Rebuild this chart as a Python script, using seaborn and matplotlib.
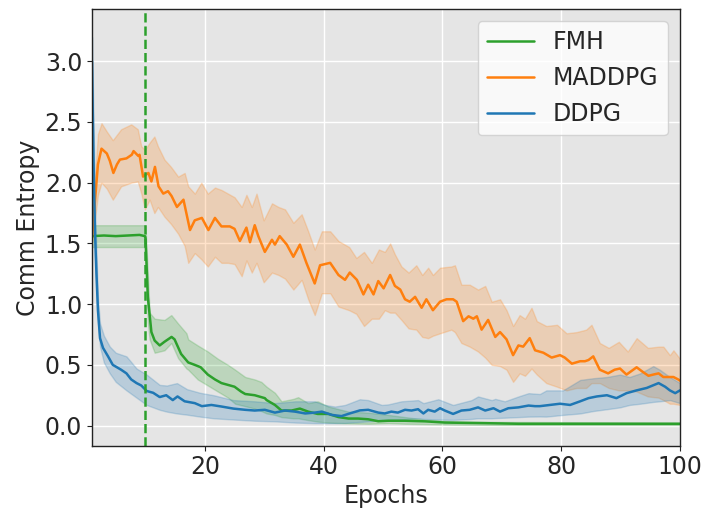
import numpy as np
import pandas as pd
import matplotlib
matplotlib.use("Agg")
import matplotlib.pyplot as plt
import seaborn as sns

# ---------------- data ----------------
fmh_x = [1, 3, 5, 7, 9, 9.9, 10.0, 10.4, 11.0, 11.55, 12.4, 13.2, 14.4, 14.9, 16.0, 17.2, 18.3,
         19.3, 20.5, 21.7, 22.8, 23.9, 25.0, 26.1, 26.8, 28.4, 30.1, 30.4, 31.8, 32.9, 34.6, 36.0,
         37.4, 39.0, 40.8, 42.5, 44.2, 45.8, 47.5, 49.2, 50.9, 53.7, 57.1, 60.4, 67.2, 72.8, 80,
         90, 100]
fmh_mean = [1.56, 1.565, 1.56, 1.565, 1.57, 1.56, 1.55, 1.06, 0.77, 0.70, 0.66, 0.69, 0.73, 0.71,
            0.59, 0.52, 0.50, 0.48, 0.42, 0.38, 0.35, 0.335, 0.32, 0.28, 0.26, 0.25, 0.226, 0.21,
            0.17, 0.124, 0.124, 0.14, 0.115, 0.096, 0.096, 0.07, 0.058, 0.058, 0.052, 0.036, 0.04,
            0.04, 0.035, 0.025, 0.02, 0.015, 0.015, 0.015, 0.015]
fmh_band_x = [1, 9.9, 10.0, 10.4, 10.7, 11.55, 13.2, 14.35, 15.5, 16.9, 17.2, 18.8, 20.5, 22.2,
              23.9, 25.1, 26.8, 28.4, 29.5, 30.4, 31.8, 32.9, 34.9, 35.7, 37.4, 39.0, 40.8, 44.2,
              47.5, 50.9, 53.7, 57, 62, 70, 100]
fmh_lo = [1.47, 1.47, 1.47, 0.85, 0.71, 0.60, 0.62, 0.68, 0.555, 0.47, 0.46, 0.38, 0.33, 0.28,
          0.23, 0.18, 0.16, 0.14, 0.12, 0.10, 0.088, 0.07, 0.06, 0.06, 0.045, 0.033, 0.025, 0.018,
          0.015, 0.02, 0.015, 0.012, 0.008, 0.005, 0.005]
fmh_hi = [1.65, 1.65, 1.65, 1.25, 0.93, 0.88, 0.87, 0.91, 0.84, 0.76, 0.71, 0.66, 0.61, 0.55,
          0.50, 0.46, 0.40, 0.38, 0.36, 0.32, 0.27, 0.20, 0.22, 0.234, 0.185, 0.20, 0.157, 0.115,
          0.107, 0.088, 0.07, 0.05, 0.035, 0.03, 0.025]

mad_x = [1.0, 1.5, 2.0, 2.6, 3.5, 4.0, 4.6, 5.2, 5.7, 6.8, 7.7, 8.0, 8.8, 9.0, 9.6, 10.5, 11.0,
         11.6, 12.2, 13.0, 13.8, 14.4, 15.3, 16.4, 17.5, 18.3, 19.5, 20.6, 21.7, 22.8, 24.2, 25.0,
         25.9, 27.0, 27.6, 28.4, 29.0, 30.1, 31.3, 31.8, 32.6, 33.8, 34.9, 36.0, 37.1, 38.5, 39.4,
         41.1, 42.5, 43.6, 44.4, 45.6, 46.7, 47.5, 48.4, 49.2, 50.1, 51.2, 52.0, 52.9, 53.7, 54.5,
         55.4, 56.5, 57.3, 58.4, 59.6, 60.7, 61.8, 62.4, 63.5, 64.4, 65.2, 65.8, 66.6, 67.7, 68.9,
         69.7, 70.8, 71.9, 72.8, 73.6, 74.7, 75.6, 77.0, 78.4, 79.8, 80.6, 81.8, 83.2, 84.0, 84.6,
         85.4, 86.5, 87.9, 89.0, 89.9, 91.0, 92.7, 93.8, 94.7, 95.5, 96.4, 97.2, 98.1, 98.9, 99.7,
         100]
mad_mean = [1.55, 1.85, 2.15, 2.28, 2.24, 2.18, 2.08, 2.15, 2.19, 2.20, 2.23, 2.26, 2.22, 2.23,
            2.05, 2.08, 2.01, 2.13, 1.97, 1.91, 1.93, 1.89, 1.80, 1.86, 1.61, 1.69, 1.71, 1.61,
            1.71, 1.64, 1.64, 1.62, 1.52, 1.63, 1.51, 1.65, 1.56, 1.43, 1.53, 1.49, 1.56, 1.49,
            1.39, 1.49, 1.34, 1.17, 1.32, 1.34, 1.24, 1.20, 1.26, 1.20, 1.08, 1.16, 1.08, 1.19,
            1.13, 1.24, 1.15, 1.12, 1.04, 1.02, 1.06, 0.97, 1.04, 0.95, 1.02, 1.04, 1.04, 1.02,
            0.86, 0.90, 0.88, 0.90, 0.79, 0.87, 0.73, 0.77, 0.71, 0.58, 0.66, 0.65, 0.72, 0.62,
            0.60, 0.56, 0.58, 0.56, 0.51, 0.53, 0.53, 0.54, 0.57, 0.46, 0.43, 0.46, 0.47, 0.42,
            0.48, 0.44, 0.41, 0.42, 0.43, 0.40, 0.40, 0.40, 0.38, 0.37]
mad_band_x = [1.0, 1.5, 2.0, 2.6, 3.5, 4.5, 5.9, 7.6, 8.7, 9.3, 9.9, 10.7, 11.5, 12.1, 13.2, 14.3,
              15.5, 16.6, 17.2, 18.3, 19.4, 20.5, 21.7, 22.8, 23.9, 25.0, 26.2, 27.0, 27.9, 28.7,
              29.9, 31.3, 32.4, 33.5, 34.9, 36.3, 37.4, 38.5, 39.7, 41.1, 42.5, 44.3, 45.5, 46.8,
              48.1, 49.3, 50.3, 51.2, 52.0, 53.1, 54.3, 55.6, 56.6, 57.6, 58.4, 59.6, 61.5, 62.1,
              63.2, 64.6, 66.0, 67.2, 68.3, 69.7, 70.8, 71.9, 73.0, 73.9, 75.0, 75.9, 77.5, 79.3,
              80.9, 82.6, 84.2, 85.1, 86.5, 88.0, 89.7, 91.2, 92.7, 94.6, 96.4, 97.2, 98.3, 98.9,
              100]
mad_lo = [1.50, 1.70, 1.90, 2.00, 1.95, 1.86, 1.97, 2.00, 2.01, 1.91, 1.78, 1.86, 1.75, 1.80,
          1.72, 1.66, 1.58, 1.48, 1.34, 1.42, 1.37, 1.31, 1.39, 1.34, 1.34, 1.33, 1.23, 1.36,
          1.26, 1.34, 1.18, 1.26, 1.24, 1.21, 1.12, 1.20, 1.04, 0.91, 1.09, 1.09, 0.98, 0.95,
          0.92, 0.82, 0.88, 0.88, 0.95, 0.93, 0.93, 0.87, 0.80, 0.79, 0.73, 0.72, 0.74, 0.76,
          0.79, 0.77, 0.68, 0.65, 0.61, 0.56, 0.50, 0.49, 0.46, 0.36, 0.43, 0.41, 0.47, 0.42,
          0.35, 0.32, 0.29, 0.31, 0.31, 0.35, 0.35, 0.31, 0.29, 0.29, 0.28, 0.24, 0.23, 0.21,
          0.18, 0.18, 0.17]
mad_hi = [1.62, 2.05, 2.40, 2.49, 2.42, 2.35, 2.44, 2.48, 2.44, 2.30, 2.27, 2.33, 2.38, 2.30,
          2.19, 2.13, 2.05, 2.08, 1.97, 1.91, 2.00, 1.91, 1.96, 1.94, 1.91, 1.88, 1.80, 1.90,
          1.80, 1.91, 1.69, 1.83, 1.80, 1.78, 1.67, 1.74, 1.60, 1.45, 1.60, 1.60, 1.52, 1.47,
          1.38, 1.43, 1.34, 1.45, 1.43, 1.50, 1.41, 1.31, 1.26, 1.32, 1.24, 1.30, 1.24, 1.30,
          1.31, 1.32, 1.16, 1.16, 1.12, 1.15, 1.02, 1.04, 0.95, 0.82, 0.91, 0.88, 0.97, 0.86,
          0.82, 0.83, 0.76, 0.77, 0.79, 0.83, 0.68, 0.64, 0.69, 0.61, 0.72, 0.64, 0.65, 0.65,
          0.58, 0.62, 0.55]

ddpg_x = [1.0, 1.25, 1.5, 1.75, 2.0, 2.35, 2.85, 3.7, 4.5, 5.9, 6.8, 7.6, 8.5, 9.3, 10.2, 11.3,
          12.4, 13.5, 14.6, 15.4, 16.6, 18.3, 19.5, 21.1, 22.8, 24.8, 26.8, 28.4, 30.1, 31.8,
          33.5, 35.2, 36.9, 38.5, 39.7, 41.4, 43.0, 44.4, 46.1, 47.5, 49.2, 50.3, 51.4, 52.5,
          53.7, 54.8, 55.9, 56.8, 57.6, 58.7, 59.6, 60.4, 61.8, 63.2, 64.6, 66.0, 67.2, 68.6,
          69.7, 71.1, 72.8, 74.5, 75.6, 76.4, 78.1, 79.8, 81.5, 83.2, 84.6, 86.0, 87.7, 89.3,
          91.0, 92.7, 94.4, 96.4, 97.5, 98.3, 99.2, 100]
ddpg_mean = [3.0, 2.2, 1.6, 1.25, 0.95, 0.72, 0.64, 0.57, 0.50, 0.46, 0.43, 0.38, 0.35, 0.33,
             0.285, 0.27, 0.235, 0.25, 0.21, 0.24, 0.20, 0.185, 0.16, 0.17, 0.157, 0.14, 0.13,
             0.124, 0.13, 0.107, 0.124, 0.115, 0.10, 0.107, 0.115, 0.088, 0.078, 0.10, 0.125,
             0.13, 0.107, 0.10, 0.115, 0.107, 0.13, 0.124, 0.135, 0.10, 0.13, 0.115, 0.143, 0.124,
             0.096, 0.124, 0.13, 0.15, 0.124, 0.143, 0.115, 0.143, 0.15, 0.165, 0.16, 0.16, 0.17,
             0.18, 0.17, 0.20, 0.226, 0.24, 0.25, 0.226, 0.267, 0.29, 0.31, 0.35, 0.32, 0.29,
             0.267, 0.29]
ddpg_band_x = [1.0, 1.5, 2.0, 2.35, 3.0, 4.0, 5.0, 6.8, 8.5, 10.2, 12.4, 13.6, 15.3, 17, 19.2,
               21.5, 24.8, 28.4, 31.8, 35.2, 38.5, 40.2, 41.9, 43.6, 46.1, 47.5, 49.8, 50.9, 53.1,
               55.9, 56.8, 59.3, 61.8, 64.9, 66.0, 68.3, 68.9, 70.5, 72.8, 74.5, 76.4, 77.5, 80.3,
               83.2, 85.4, 87.7, 89.9, 91.5, 93.3, 95.5, 96.6, 98.3, 100]
ddpg_lo = [2.80, 1.40, 0.85, 0.65, 0.52, 0.43, 0.36, 0.29, 0.23, 0.17, 0.13, 0.115, 0.10, 0.09,
           0.074, 0.06, 0.05, 0.04, 0.035, 0.025, 0.02, 0.02, 0.02, 0.022, 0.03, 0.035, 0.045,
           0.047, 0.05, 0.06, 0.055, 0.05, 0.047, 0.055, 0.06, 0.06, 0.062, 0.065, 0.07, 0.074,
           0.075, 0.074, 0.088, 0.10, 0.12, 0.135, 0.15, 0.17, 0.18, 0.195, 0.20, 0.21, 0.185]
ddpg_hi = [3.20, 1.80, 1.05, 0.84, 0.74, 0.65, 0.60, 0.57, 0.47, 0.42, 0.335, 0.33, 0.35, 0.30,
           0.27, 0.25, 0.21, 0.20, 0.185, 0.20, 0.20, 0.17, 0.157, 0.17, 0.217, 0.21, 0.17,
           0.175, 0.20, 0.21, 0.185, 0.217, 0.17, 0.21, 0.24, 0.21, 0.22, 0.20, 0.24, 0.267,
           0.26, 0.29, 0.29, 0.376, 0.39, 0.40, 0.42, 0.40, 0.43, 0.49, 0.46, 0.40, 0.35]

switch_epoch = 10
x_ticks = [20, 40, 60, 80, 100]

# ---------------- style ----------------
sns.set_style("darkgrid", {"axes.facecolor": "#E5E5E5", "grid.color": "white",
                           "axes.edgecolor": "#222222", "xtick.bottom": True,
                           "ytick.left": True})
plt.rcParams["font.family"] = ["DejaVu Sans"]

C_G, C_O, C_B = "#2ca02c", "#ff7f0e", "#1f77b4"
FS = 17

fig, ax = plt.subplots(figsize=(7.05, 5.14), dpi=100)
fig.subplots_adjust(left=0.1305, right=0.9645, top=0.9825, bottom=0.133)

series = [
    ("FMH", fmh_x, fmh_mean, fmh_band_x, fmh_lo, fmh_hi, C_G),
    ("MADDPG", mad_x, mad_mean, mad_band_x, mad_lo, mad_hi, C_O),
    ("DDPG", ddpg_x, ddpg_mean, ddpg_band_x, ddpg_lo, ddpg_hi, C_B),
]
for name, x, m, bx, lo, hi, c in series:
    ax.fill_between(bx, lo, hi, color=c, alpha=0.22, linewidth=1)
    sns.lineplot(x=x, y=m, ax=ax, color=c, linewidth=1.8, label=name, estimator=None)

ax.axvline(switch_epoch, color=C_G, linestyle="--", linewidth=1.8)

ax.set_xlim(1, 100)
ax.set_ylim(-0.165, 3.43)
ax.set_xticks(x_ticks)
ax.set_yticks([0.0, 0.5, 1.0, 1.5, 2.0, 2.5, 3.0])
ax.tick_params(labelsize=FS, length=3.5, width=0.8, color="#222222")
ax.set_xlabel("Epochs", fontsize=FS, labelpad=3)
ax.set_ylabel("Comm Entropy", fontsize=FS, labelpad=3)
for s in ax.spines.values():
    s.set_visible(True)
    s.set_color("#222222")
    s.set_linewidth(1.0)
ax.grid(True, color="white", linewidth=1.0)
ax.legend(loc="upper right", fontsize=FS, frameon=True, facecolor="white",
          framealpha=0.8, edgecolor="#cccccc")

fig.savefig("out.png", dpi=100)
